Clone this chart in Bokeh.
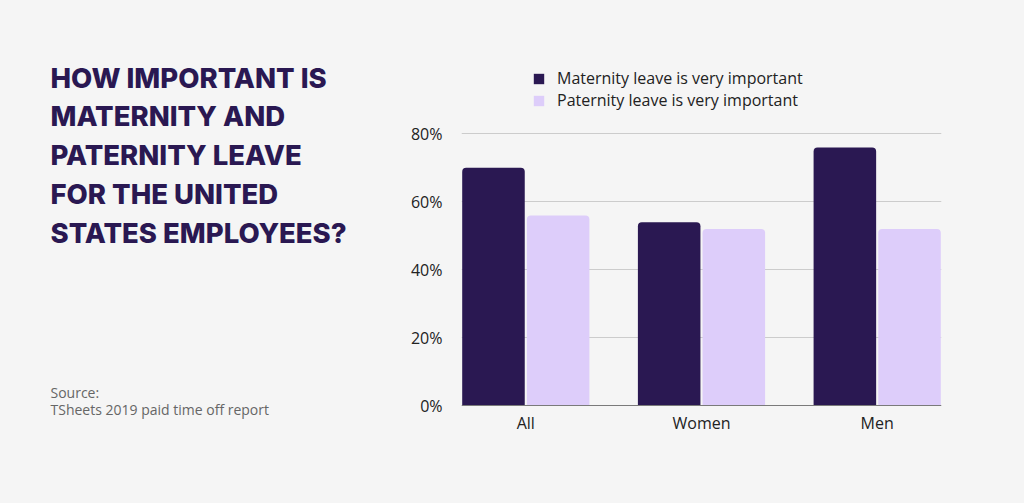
import numpy as np
from bokeh.plotting import figure
from bokeh.layouts import row
from bokeh.models import Range1d, FixedTicker, Legend, LegendItem
from bokeh.core.properties import value
from bokeh.embed import file_html
from bokeh.resources import INLINE

# ---- data ----
categories = ["All", "Women", "Men"]
maternity = [70, 54, 76]
paternity = [56, 52, 52]
series_names = ["Maternity leave is very important", "Paternity leave is very important"]
y_ticks = [0, 20, 40, 60, 80]
y_tick_labels = ["0%", "20%", "40%", "60%", "80%"]
title_lines = ["HOW IMPORTANT IS", "MATERNITY AND", "PATERNITY LEAVE",
               "FOR THE UNITED", "STATES EMPLOYEES?"]
source_lines = ["Source:", "TSheets 2019 paid time off report"]

BG = "#f5f5f5"
DARK = "#2a1852"
LIGHT = "#ddcdfa"
FONT = "Open Sans"
TITLE_FONT = "'Inter ExtraBold', Inter"

W, H = 1024, 503
LW = 400
T, B = 40, 450          # frame top / bottom (canvas px), same for both figures
PX_PER_PCT = 3.4
ZERO_Y = 405.3

# ---- left text panel (data coords == canvas px) ----
left = figure(width=LW, height=H, x_range=Range1d(0, LW), y_range=Range1d(B, T),
              output_backend="svg", toolbar_location=None, title=None,
              x_axis_location=None, y_axis_location=None,
              background_fill_color=BG, border_fill_color=BG,
              min_border_left=0, min_border_right=0,
              min_border_top=T, min_border_bottom=H - B,
              outline_line_color=None)
left.grid.visible = False

ty = 77 + 38.75 * np.arange(len(title_lines))
left.text(x=[50] * len(title_lines), y=ty, text=title_lines,
          text_font=value(TITLE_FONT), text_font_style="bold",
          text_font_size="27.5px", text_color=DARK,
          text_baseline="alphabetic", text_align="left")
left.text(x=[50, 50], y=[391.7, 409.3], text=source_lines,
          text_font=value(FONT), text_font_size="14px", text_color="#666666",
          text_baseline="alphabetic", text_align="left")

# ---- chart ----
y0 = -(B - ZERO_Y) / PX_PER_PCT
y1 = (ZERO_Y - T) / PX_PER_PCT
p = figure(width=W - LW, height=H, x_range=Range1d(-0.366, 2.366), y_range=Range1d(y0, y1),
           output_backend="svg", toolbar_location=None, title=None,
           background_fill_color=BG, border_fill_color=BG,
           min_border_left=461 - LW, min_border_right=83,
           min_border_top=T, min_border_bottom=H - B,
           outline_line_color=None)

xi = np.arange(len(categories))
w = 0.356
r1 = p.vbar(x=xi - 0.184, top=maternity, bottom=0, width=w, fill_color=DARK, line_color=None,
            border_radius=(4, 4, 0, 0))
r2 = p.vbar(x=xi + 0.184, top=paternity, bottom=0, width=w, fill_color=LIGHT, line_color=None,
            border_radius=(4, 4, 0, 0))

p.xgrid.visible = False
p.ygrid.ticker = FixedTicker(ticks=y_ticks[1:])
p.ygrid.grid_line_color = "#cccccc"
p.ygrid.grid_line_width = 1

p.yaxis.ticker = FixedTicker(ticks=y_ticks)
p.yaxis.major_label_overrides = {t: l for t, l in zip(y_ticks, y_tick_labels)}
p.yaxis.axis_line_color = None
p.yaxis.major_tick_line_color = None
p.yaxis.minor_tick_line_color = None
p.yaxis.major_label_standoff = 13
p.yaxis.major_label_text_font = FONT
p.yaxis.major_label_text_font_size = "16px"
p.yaxis.major_label_text_color = "#222222"

p.xaxis.fixed_location = 0
p.xaxis.ticker = FixedTicker(ticks=list(xi))
p.xaxis.major_label_overrides = {int(i): c for i, c in zip(xi, categories)}
p.xaxis.axis_line_color = "#7a7a7a"
p.xaxis.axis_line_width = 1
p.xaxis.major_tick_line_color = None
p.xaxis.minor_tick_line_color = None
p.xaxis.major_label_standoff = 0
p.xaxis.major_label_text_font = FONT
p.xaxis.major_label_text_font_size = "16px"
p.xaxis.major_label_text_color = "#222222"

legend = Legend(items=[LegendItem(label=series_names[0], renderers=[r1]),
                       LegendItem(label=series_names[1], renderers=[r2])],
                location=(71, 339), orientation="vertical",
                glyph_width=13, glyph_height=13, label_standoff=12,
                label_height=13, spacing=-7, padding=0, margin=0,
                border_line_color=None, background_fill_alpha=0,
                label_text_font=FONT, label_text_font_size="16px",
                label_text_color="#222222")
p.add_layout(legend, "center")

layout = row(left, p)
html = file_html(layout, INLINE)
html = html.replace("</head>", "<style>html,body{background:%s;}</style></head>" % BG, 1)
open("out.html", "w").write(html)
